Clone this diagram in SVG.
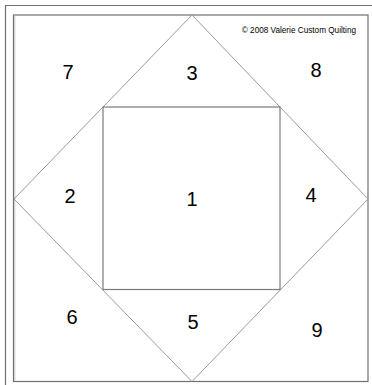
<svg xmlns="http://www.w3.org/2000/svg" width="372" height="385" viewBox="0 0 372 385">
<style>
.num{font-family:"Liberation Sans",Arial,sans-serif;font-size:20px;fill:#000;text-anchor:middle}
.copy{font-family:"Liberation Sans",Arial,sans-serif;font-size:8.2px;fill:#000;text-anchor:end}
.frame{fill:none;stroke:#707070;stroke-width:1.2}
.diamond{fill:none;stroke:#9a9a9a;stroke-width:1}
.square{fill:none;stroke:#7a7a7a;stroke-width:1.2}
</style>
<rect width="372" height="385" fill="#fff"/>
<g id="frame">
<polyline class="frame" points="5.5,385 5.5,5.5 372,5.5"/>
<rect x="13.5" y="15" width="354.5" height="366.5" class="frame"/>
<line x1="14.8" y1="15.5" x2="14.8" y2="381" stroke="#c8c8c8" stroke-width="1"/>
</g>
<g id="connectors">
<polygon class="diamond" points="192,15 368,199 192,381.5 14,199"/>
</g>
<g id="square-1">
<rect class="square" x="103" y="107" width="177" height="182.5"/>
</g>
<g id="labels">
<text class="num" x="68" y="79">7</text>
<text class="num" x="192" y="80">3</text>
<text class="num" x="316" y="77">8</text>
<text class="num" x="70" y="203">2</text>
<text class="num" x="192" y="206">1</text>
<text class="num" x="311" y="202">4</text>
<text class="num" x="72" y="324">6</text>
<text class="num" x="193" y="329">5</text>
<text class="num" x="317" y="337">9</text>
</g>
<text class="copy" x="356" y="33">© 2008 Valerie Custom Quilting</text>
</svg>
